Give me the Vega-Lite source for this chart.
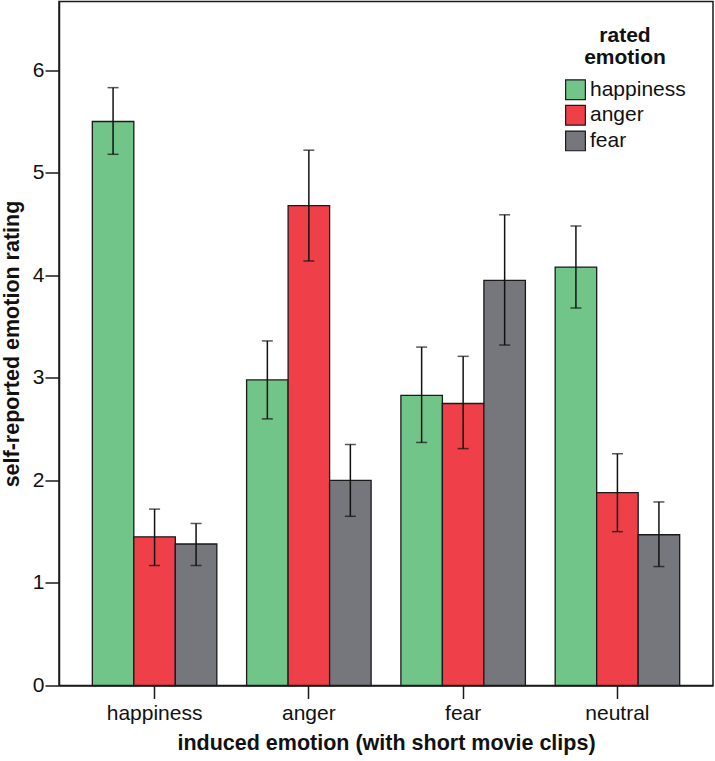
{
  "$schema": "https://vega.github.io/schema/vega-lite/v6.json",
  "autosize": {"type": "none"},
  "padding": {"left": 59, "top": 1.5, "right": 2, "bottom": 75.5},
  "width": 654,
  "height": 684,
  "background": "white",
  "config": {
    "font": "Liberation Sans",
    "view": {"stroke": "#1a1a1a", "strokeWidth": 1.5},
    "axis": {
      "labelFont": "Liberation Sans",
      "titleFont": "Liberation Sans",
      "labelFontSize": 21,
      "titleFontSize": 21.5,
      "titleFontWeight": "bold",
      "labelColor": "#111",
      "titleColor": "#111",
      "tickColor": "#1a1a1a",
      "domainColor": "#1a1a1a",
      "tickWidth": 1.5,
      "domainWidth": 1.5,
      "grid": false
    }
  },
  "data": {
    "values": [
      {"induced": "happiness", "rated": "happiness", "mean": 5.50, "lo": 5.18, "hi": 5.83},
      {"induced": "happiness", "rated": "anger", "mean": 1.45, "lo": 1.17, "hi": 1.72},
      {"induced": "happiness", "rated": "fear", "mean": 1.38, "lo": 1.17, "hi": 1.58},
      {"induced": "anger", "rated": "happiness", "mean": 2.98, "lo": 2.60, "hi": 3.36},
      {"induced": "anger", "rated": "anger", "mean": 4.68, "lo": 4.14, "hi": 5.22},
      {"induced": "anger", "rated": "fear", "mean": 2.00, "lo": 1.65, "hi": 2.35},
      {"induced": "fear", "rated": "happiness", "mean": 2.83, "lo": 2.37, "hi": 3.30},
      {"induced": "fear", "rated": "anger", "mean": 2.75, "lo": 2.31, "hi": 3.21},
      {"induced": "fear", "rated": "fear", "mean": 3.95, "lo": 3.32, "hi": 4.59},
      {"induced": "neutral", "rated": "happiness", "mean": 4.08, "lo": 3.68, "hi": 4.48},
      {"induced": "neutral", "rated": "anger", "mean": 1.88, "lo": 1.50, "hi": 2.26},
      {"induced": "neutral", "rated": "fear", "mean": 1.47, "lo": 1.16, "hi": 1.79}
    ]
  },
  "encoding": {
    "x": {
      "field": "induced",
      "type": "nominal",
      "sort": ["happiness", "anger", "fear", "neutral"],
      "scale": {"paddingInner": 0.193, "paddingOuter": 0.216},
      "axis": {
        "title": "induced emotion (with short movie clips)",
        "labelAngle": 0,
        "tickSize": 13,
        "labelPadding": 4,
        "titlePadding": 9
      }
    },
    "xOffset": {
      "field": "rated",
      "type": "nominal",
      "sort": ["happiness", "anger", "fear"],
      "scale": {"paddingInner": 0, "paddingOuter": 0}
    }
  },
  "layer": [
    {
      "mark": {"type": "bar", "stroke": "#1a1a1a", "strokeWidth": 1.3},
      "encoding": {
        "y": {
          "field": "mean",
          "type": "quantitative",
          "scale": {"domain": [0, 6.67], "nice": false},
          "axis": {
            "title": "self-reported emotion rating",
            "values": [0, 1, 2, 3, 4, 5, 6],
            "format": "d",
            "tickSize": 14,
            "labelPadding": 1,
            "titlePadding": 9
          }
        },
        "color": {
          "field": "rated",
          "type": "nominal",
          "scale": {
            "domain": ["happiness", "anger", "fear"],
            "range": ["#72C589", "#EF404A", "#76777C"]
          },
          "legend": {
            "title": ["rated", "emotion"],
            "orient": "none",
            "legendX": 506,
            "legendY": 23,
            "padding": 0,
            "titleFont": "Liberation Sans",
            "titleFontSize": 21,
            "titleFontWeight": "bold",
            "titleColor": "#111",
            "titleAnchor": "middle",
            "titleAlign": "center",
            "titleLineHeight": 22.7,
            "titlePadding": 11,
            "labelFont": "Liberation Sans",
            "labelFontSize": 21,
            "labelColor": "#111",
            "labelOffset": 4,
            "symbolType": "square",
            "symbolSize": 390,
            "symbolStrokeColor": "#1a1a1a",
            "symbolStrokeWidth": 1.2,
            "symbolOpacity": 1,
            "rowPadding": 0.6
          }
        }
      }
    },
    {
      "mark": {"type": "rule", "color": "#111", "strokeWidth": 1.5},
      "encoding": {
        "y": {"field": "lo", "type": "quantitative"},
        "y2": {"field": "hi"}
      }
    },
    {
      "mark": {"type": "tick", "color": "#111", "thickness": 1.5, "size": 11},
      "encoding": {
        "y": {"field": "lo", "type": "quantitative"}
      }
    },
    {
      "mark": {"type": "tick", "color": "#111", "thickness": 1.5, "size": 11},
      "encoding": {
        "y": {"field": "hi", "type": "quantitative"}
      }
    }
  ]
}
